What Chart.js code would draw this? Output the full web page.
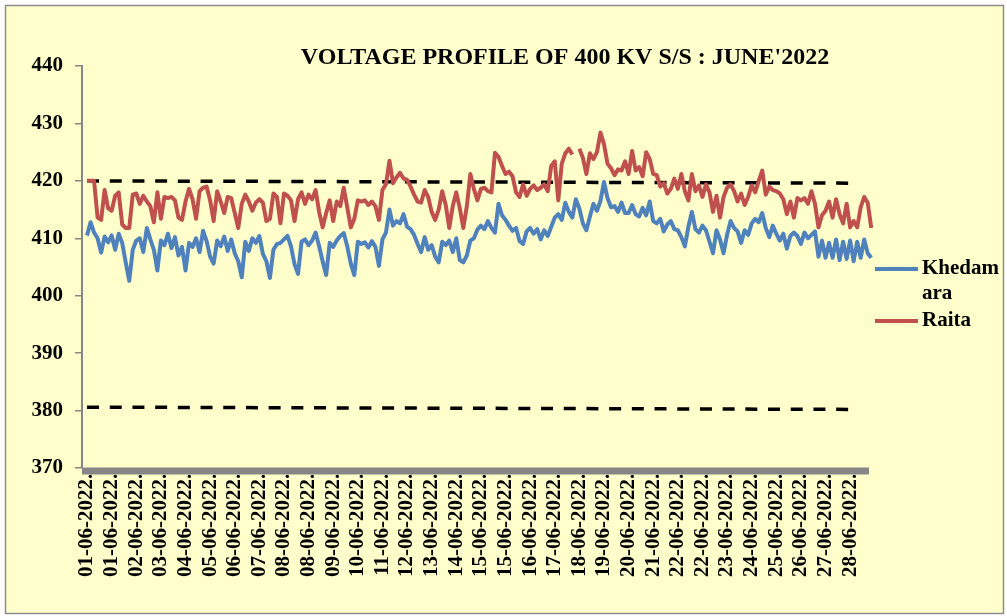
<!DOCTYPE html>
<html>
<head>
<meta charset="utf-8">
<title>Voltage profile of 400 KV S/S : June 2022</title>
<script src="https://cdn.jsdelivr.net/npm/chart.js@4.4.1/dist/chart.umd.min.js"></script>
<style>
  html, body { margin: 0; padding: 0; background: #ffffff; }
  #wrap { width: 1007px; height: 616px; }
</style>
</head>
<body>
<div id="wrap"><canvas id="voltChart" width="1007" height="616"></canvas></div>
<script>
const chartTitle = "VOLTAGE PROFILE OF 400 KV S/S : JUNE'2022";
const seriesNames = ['Khedamara', 'Raita'];

// tick labels printed under the x axis, one every 21 hours
const xTickLabels = [
  '01-06-2022', '01-06-2022', '02-06-2022', '03-06-2022', '04-06-2022', '05-06-2022',
  '06-06-2022', '07-06-2022', '08-06-2022', '08-06-2022', '09-06-2022', '10-06-2022',
  '11-06-2022', '12-06-2022', '13-06-2022', '14-06-2022', '15-06-2022', '15-06-2022',
  '16-06-2022', '17-06-2022', '18-06-2022', '19-06-2022', '20-06-2022', '21-06-2022',
  '22-06-2022', '22-06-2022', '23-06-2022', '24-06-2022', '25-06-2022', '26-06-2022',
  '27-06-2022', '28-06-2022'
];

// kV readings, one every 3 hours from 01-06-2022 00:00 (8 per row = 1 day)
const khedamara = [
  410.5, 412.8, 411.0, 410.0, 407.5, 410.3, 409.3, 410.5,
  408.0, 410.8, 409.2, 405.8, 402.6, 408.0, 409.6, 410.0,
  407.6, 411.8, 409.8, 408.0, 404.4, 409.6, 408.8, 410.8,
  408.3, 410.2, 407.0, 408.5, 404.4, 409.2, 408.5, 410.0,
  407.6, 411.3, 409.5, 406.8, 405.6, 409.6, 408.6, 410.3,
  407.8, 409.8, 407.4, 406.0, 403.2, 409.4, 407.8, 410.0,
  409.2, 410.4, 407.3, 406.0, 403.1, 408.0, 409.0, 409.2,
  409.8, 410.4, 408.6, 405.5, 403.8, 409.4, 409.8, 408.8,
  409.6, 411.0, 408.6, 406.0, 403.6, 409.2, 408.5, 409.6,
  410.4, 410.9, 408.6, 405.6, 403.6, 409.4, 409.0, 409.3,
  408.4, 409.5, 408.5, 405.2, 409.8, 411.0, 415.0, 412.2,
  413.0, 412.6, 414.2, 412.0, 411.6, 410.6, 409.0, 407.6,
  410.2, 408.0, 408.8, 406.8, 405.8, 409.4, 408.8, 409.6,
  407.6, 410.0, 406.2, 405.8, 407.0, 409.6, 410.0, 411.5,
  412.2, 411.6, 413.0, 411.8, 411.0, 416.0, 414.0, 413.2,
  412.2, 411.3, 411.8, 409.5, 409.0, 411.2, 411.8, 410.8,
  411.6, 409.8, 411.4, 410.4, 412.0, 413.6, 414.2, 413.2,
  416.2, 414.6, 413.6, 416.8, 415.2, 412.6, 411.4, 413.8,
  416.0, 414.8, 416.5, 419.8, 417.0, 415.4, 415.6, 414.6,
  416.2, 414.4, 414.4, 415.8, 414.2, 413.8, 415.3, 414.0,
  416.4, 413.0, 412.6, 413.4, 411.2, 412.4, 413.0, 411.6,
  411.4, 410.2, 408.6, 412.0, 414.6, 411.6, 411.0, 412.2,
  411.4, 409.4, 407.4, 411.4, 409.8, 407.4, 410.6, 413.0,
  411.8, 411.2, 409.2, 411.4, 410.6, 412.6, 413.4, 412.8,
  414.4, 411.8, 410.2, 412.2, 410.8, 409.6, 410.8, 408.2,
  410.4, 411.0, 410.4, 409.0, 411.0, 410.0, 410.6, 411.2,
  406.8, 409.6, 406.6, 409.2, 406.6, 409.8, 406.2, 409.4,
  406.4, 409.6, 406.0, 409.4, 406.6, 409.8, 407.4, 406.6
];

const raita = [
  420.0, 420.0, 420.0, 413.6, 413.2, 418.4, 415.2, 414.8,
  417.4, 418.0, 412.4, 411.8, 411.8, 417.6, 417.8, 416.0,
  417.4, 416.4, 415.6, 412.8, 418.0, 413.4, 417.2, 417.0,
  417.2, 416.6, 413.6, 413.2, 416.4, 418.6, 416.8, 413.4,
  418.2, 418.8, 419.0, 416.6, 413.0, 418.2, 416.4, 414.4,
  417.2, 417.0, 414.4, 411.8, 416.0, 417.6, 416.4, 414.8,
  416.2, 416.8, 416.2, 413.0, 413.4, 417.8, 417.2, 412.6,
  417.8, 417.4, 416.6, 413.0, 416.8, 418.0, 416.0, 417.6,
  416.8, 418.4, 414.6, 411.9, 414.4, 416.6, 413.0, 416.4,
  415.6, 418.8, 415.4, 411.9, 413.4, 416.6, 416.4, 416.6,
  415.8, 416.4, 415.6, 413.2, 418.4, 419.4, 423.5, 419.6,
  420.6, 421.4, 420.4, 420.2, 419.0, 417.6, 416.4, 416.2,
  418.4, 417.2, 414.6, 413.2, 415.0, 418.2, 415.8, 411.8,
  415.6, 418.0, 415.2, 411.8, 415.6, 421.2, 418.6, 416.6,
  418.6, 418.8, 418.2, 418.0, 424.9, 424.2, 422.6, 421.2,
  421.6, 420.8, 418.0, 417.2, 419.4, 417.4, 418.6, 419.2,
  418.4, 418.8, 419.4, 418.2, 422.6, 423.4, 416.6, 423.0,
  424.8, 425.6, 424.6, null,  425.6, 424.0, 421.2, 424.8,
  423.8, 425.0, 428.4, 426.4, 423.0, 422.2, 421.0, 422.0,
  421.8, 423.4, 421.2, 425.2, 421.8, 422.4, 420.8, 425.0,
  423.8, 421.2, 421.0, 419.0, 419.6, 417.8, 418.6, 420.4,
  418.6, 421.2, 418.2, 416.6, 421.2, 418.2, 419.2, 417.2,
  419.4, 418.0, 414.6, 417.4, 413.6, 417.2, 418.8, 419.4,
  418.2, 416.4, 417.8, 415.8, 417.2, 419.2, 418.0, 420.0,
  421.8, 417.6, 419.0, 418.4, 418.2, 417.8, 416.8, 414.2,
  416.4, 413.6, 417.0, 416.6, 417.0, 416.0, 418.2, 416.0,
  411.9, 414.0, 414.8, 416.4, 413.6, 416.8, 414.2, 412.6,
  416.0, 411.9, 413.0, 411.9, 415.4, 417.2, 416.2, 411.8
];

// dashed limit lines (start and end hour, kV)
const limitHours = [0, 653];
const upperLimit = [420.0, 419.6];
const lowerLimit = [380.6, 380.2];

const STEP_HOURS = 3;
const LABEL_EVERY = 21;
const serif = '"Liberation Serif", "Times New Roman", serif';
const seriesColors = ['#4f81bd', '#c0504d'];

function toPoints(values) {
  return values.map((v, i) => ({ x: i * STEP_HOURS, y: v }));
}
function limitPoints(values) {
  return limitHours.map((h, i) => ({ x: h, y: values[i] }));
}

// yellow panel with grey frame
const panelPlugin = {
  id: 'panel',
  beforeDraw(chart) {
    const ctx = chart.ctx;
    ctx.save();
    ctx.fillStyle = '#ffffff';
    ctx.fillRect(0, 0, chart.width, chart.height);
    ctx.fillStyle = '#ffffcc';
    ctx.fillRect(5, 5, 999, 609);
    ctx.strokeStyle = '#8c8c8c';
    ctx.lineWidth = 1.5;
    ctx.strokeRect(5.5, 5.5, 998, 608);
    ctx.restore();
  }
};

// thick grey category axis line, drawn over the tick labels
const axisBarPlugin = {
  id: 'axisBar',
  afterDatasetsDraw(chart) {
    const a = chart.chartArea;
    const ctx = chart.ctx;
    ctx.save();
    ctx.fillStyle = '#868686';
    ctx.fillRect(a.left, a.bottom - 0.5, a.right - a.left - 4, 7);
    ctx.restore();
  }
};

// title and right-hand legend (legend names wrap like the original)
const textPlugin = {
  id: 'texts',
  afterDraw(chart) {
    const ctx = chart.ctx;
    ctx.save();
    ctx.fillStyle = '#000';
    ctx.font = 'bold 24px ' + serif;
    ctx.textAlign = 'center';
    ctx.textBaseline = 'alphabetic';
    ctx.fillText(chartTitle, 565, 64);

    ctx.font = 'bold 21px ' + serif;
    ctx.textAlign = 'left';
    ctx.textBaseline = 'middle';
    let y = 269;
    seriesNames.forEach((name, i) => {
      const lines = [];
      let cur = '';
      for (const ch of name) {
        if (cur && ctx.measureText(cur + ch).width > 80) { lines.push(cur); cur = ch; }
        else cur += ch;
      }
      lines.push(cur);
      ctx.strokeStyle = seriesColors[i];
      ctx.lineWidth = 4;
      ctx.beginPath();
      ctx.moveTo(875, y);
      ctx.lineTo(918, y);
      ctx.stroke();
      lines.forEach((ln, j) => ctx.fillText(ln, 922, y + j * 25));
      y += lines.length * 25 + 2;
    });
    ctx.restore();
  }
};

const ctx = document.getElementById('voltChart').getContext('2d');
const voltChart = new Chart(ctx, {
  type: 'line',
  data: {
    datasets: [
      {
        label: seriesNames[0],
        data: toPoints(khedamara),
        borderColor: seriesColors[0],
        backgroundColor: seriesColors[0],
        borderWidth: 4,
        pointRadius: 0,
        borderJoinStyle: 'round',
        tension: 0
      },
      {
        label: seriesNames[1],
        data: toPoints(raita),
        borderColor: seriesColors[1],
        backgroundColor: seriesColors[1],
        borderWidth: 4,
        pointRadius: 0,
        borderJoinStyle: 'round',
        spanGaps: false,
        tension: 0
      },
      {
        label: 'Upper limit',
        data: limitPoints(upperLimit),
        borderColor: '#000',
        borderWidth: 3.5,
        borderDash: [12, 10.7],
        pointRadius: 0
      },
      {
        label: 'Lower limit',
        data: limitPoints(lowerLimit),
        borderColor: '#000',
        borderWidth: 3.5,
        borderDash: [12, 10.7],
        pointRadius: 0
      }
    ]
  },
  options: {
    responsive: false,
    animation: false,
    devicePixelRatio: 1,
    layout: { padding: { top: 66, right: 134, bottom: 0, left: 0 } },
    plugins: {
      legend: { display: false },
      title: { display: false },
      tooltip: { enabled: false }
    },
    scales: {
      x: {
        type: 'linear',
        min: -4.3,
        max: 670.5,
        afterBuildTicks: function(scale) {
          scale.ticks = xTickLabels.map((_, i) => ({ value: i * LABEL_EVERY }));
        },
        afterFit: function(scale) { scale.height = 148; },
        ticks: {
          autoSkip: false,
          minRotation: 90,
          maxRotation: 90,
          padding: -10,
          color: '#000',
          font: { family: serif, size: 21, weight: 'bold' },
          callback: function(value, index) { return xTickLabels[index] + '....'; }
        },
        grid: { display: false, drawTicks: false },
        border: { display: false }
      },
      y: {
        min: 370,
        max: 440,
        afterFit: function(scale) { scale.width = 82; },
        ticks: {
          stepSize: 10,
          padding: 12,
          color: '#000',
          font: { family: serif, size: 21, weight: 'bold' }
        },
        grid: { drawOnChartArea: false, drawTicks: true, tickLength: 7, color: '#868686', lineWidth: 1.5 },
        border: { display: true, color: '#868686', width: 2 }
      }
    }
  },
  plugins: [panelPlugin, axisBarPlugin, textPlugin]
});
</script>
</body>
</html>
